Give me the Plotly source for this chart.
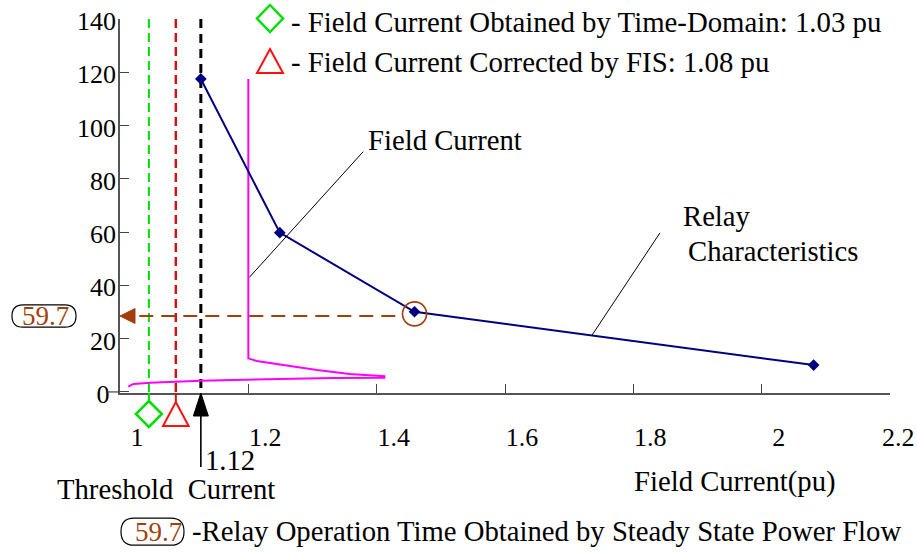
import plotly.graph_objects as go

# ---------------- data ----------------
relay_x = [1.126, 1.249, 1.459, 2.081]
relay_y = [117.5, 59.8, 30.1, 10.1]

field_x = [1.2, 1.2, 1.213, 1.254, 1.307, 1.358, 1.412, 1.412, 1.332, 1.229, 1.125, 1.047, 1.021, 1.013]
field_y = [117.5, 12.6, 11.6, 10.1, 8.2, 6.7, 5.9, 5.3, 5.2, 4.75, 4.2, 3.45, 3.0, 2.0]

time_domain_current = 1.045      # green diamond
fis_current = 1.087              # red triangle
threshold_current = 1.126        # black arrow
threshold_label = "1.12"

op_point_x = 1.459               # circled relay point
op_point_y = 29.3
op_time_level = 28.5             # dashed arrow level
op_time_label = "59.7"

x_ticks = [1, 1.2, 1.4, 1.6, 1.8, 2, 2.2]
x_ticktext = ["1", "1.2", "1.4", "1.6", "1.8", "2", "2.2"]
y_ticks = [0, 20, 40, 60, 80, 100, 120, 140]
y_ticktext = ["0\u00a0", "20", "40", "60", "80", "100", "120", "140"]

legend_texts = ["- Field Current Obtained by Time-Domain: 1.03 pu",
                "- Field Current Corrected by FIS: 1.08 pu"]

X_MIN, X_MAX = 1.0, 2.2
Y_MIN, Y_MAX = -0.4, 140

FONT = "Liberation Serif"
GREEN = "#00dd00"
RED = "#ff1010"
DRED = "#cc1515"
BROWN = "#a0410d"
NAVY = "#00007f"
MAGENTA = "#ff00ff"

# plot area in pixels (for converting pixel offsets to paper fractions)
L, R, T, B = 120, 27, 19, 159
W, H = 917, 552
PW, PH = W - L - R, H - T - B


def px(xp):
    return (xp - L) / PW


def py(yp):
    return (H - B - yp) / PH


fig = go.Figure()

# vertical dashed lines
for xv, col, wd, dash in [(time_domain_current, GREEN, 2, "9px,5px"),
                          (fis_current, DRED, 2.5, "9px,5px"),
                          (threshold_current, "black", 3, "9px,6px")]:
    fig.add_trace(go.Scatter(x=[xv, xv], y=[Y_MAX, Y_MIN], mode="lines",
                             line=dict(color=col, width=wd, dash=dash),
                             hoverinfo="skip"))

# field current (magenta)
fig.add_trace(go.Scatter(x=field_x, y=field_y, mode="lines",
                         line=dict(color=MAGENTA, width=2), hoverinfo="skip"))

# relay characteristics
fig.add_trace(go.Scatter(x=relay_x, y=relay_y, mode="lines+markers",
                         line=dict(color=NAVY, width=2),
                         marker=dict(symbol="diamond", size=9, color=NAVY),
                         hoverinfo="skip"))

# dashed brown arrow line
fig.add_trace(go.Scatter(x=[op_point_x - 0.03, X_MIN + 0.02], y=[op_time_level, op_time_level],
                         mode="lines", line=dict(color=BROWN, width=2, dash="14px,8px"),
                         hoverinfo="skip"))

# circle around point
fig.add_trace(go.Scatter(x=[op_point_x], y=[op_point_y], mode="markers",
                         marker=dict(symbol="circle-open", size=24,
                                     line=dict(color=BROWN, width=1.6), color=BROWN),
                         hoverinfo="skip", cliponaxis=False))

shapes = []
# brown arrowhead at y axis
shapes.append(dict(type="path", xref="x", yref="y", xsizemode="pixel", ysizemode="pixel",
                   xanchor=X_MIN, yanchor=op_time_level,
                   path="M0,0 L15,7.5 L15,-7.5 Z", fillcolor=BROWN, line=dict(color=BROWN, width=1)))

# short connectors below axis for green / red
for xv, col in [(time_domain_current, GREEN), (fis_current, DRED)]:
    shapes.append(dict(type="line", xref="x", yref="y domain", ysizemode="pixel",
                       yanchor=0, x0=xv, x1=xv, y0=0, y1=-9,
                       line=dict(color=col, width=2)))

# green diamond below axis
shapes.append(dict(type="path", xref="x", yref="y domain", xsizemode="pixel", ysizemode="pixel",
                   xanchor=time_domain_current, yanchor=0,
                   path="M0,-8 L13,-21 L0,-34 L-13,-21 Z",
                   line=dict(color=GREEN, width=2.5)))
# red triangle below axis
shapes.append(dict(type="path", xref="x", yref="y domain", xsizemode="pixel", ysizemode="pixel",
                   xanchor=fis_current, yanchor=0,
                   path="M0,-9 L12.8,-33 L-12.8,-33 Z",
                   line=dict(color=RED, width=2)))
# black arrow
shapes.append(dict(type="path", xref="x", yref="y domain", xsizemode="pixel", ysizemode="pixel",
                   xanchor=threshold_current, yanchor=0,
                   path="M0,-20 L0,-74", line=dict(color="black", width=1.6)))
shapes.append(dict(type="path", xref="x", yref="y domain", xsizemode="pixel", ysizemode="pixel",
                   xanchor=threshold_current, yanchor=0,
                   path="M0,0 L7.5,-23 L-7.5,-23 Z", fillcolor="black",
                   line=dict(color="black", width=1)))

# outward tick at 0
shapes.append(dict(type="line", xref="paper", yref="y", xsizemode="pixel",
                   xanchor=0, x0=-13, x1=0, y0=0, y1=0,
                   line=dict(color="#444", width=1.2)))

# legend symbols
shapes.append(dict(type="path", xref="paper", yref="paper", xsizemode="pixel", ysizemode="pixel",
                   xanchor=px(270), yanchor=py(18.5),
                   path="M0,13.5 L13,0 L0,-13.5 L-13,0 Z", line=dict(color=GREEN, width=2.5)))
shapes.append(dict(type="path", xref="paper", yref="paper", xsizemode="pixel", ysizemode="pixel",
                   xanchor=px(270), yanchor=py(61),
                   path="M0,12 L13,-12 L-13,-12 Z", line=dict(color=RED, width=2)))

# leader lines
shapes.append(dict(type="line", xref="x", yref="y", x0=1.379, y0=90.2, x1=1.2015, y1=43.0,
                   line=dict(color="black", width=1)))
shapes.append(dict(type="line", xref="x", yref="y", x0=1.8415, y0=59.7, x1=1.7356, y1=21.3,
                   line=dict(color="black", width=1)))

# rounded boxes
pill_left = "M-97,11.2 L-55,11.2 Q-44,11.2 -44,0 Q-44,-11.2 -55,-11.2 L-97,-11.2 Q-108,-11.2 -108,0 Q-108,11.2 -97,11.2 Z"
shapes.append(dict(type="path", xref="paper", yref="paper", xsizemode="pixel", ysizemode="pixel",
                   xanchor=0, yanchor=py(316), path=pill_left,
                   line=dict(color="black", width=1.2)))
pill_bottom = "M14,13.5 L51,13.5 Q64,13.5 64,0 Q64,-13.5 51,-13.5 L14,-13.5 Q1,-13.5 1,0 Q1,13.5 14,13.5 Z"
shapes.append(dict(type="path", xref="paper", yref="paper", xsizemode="pixel", ysizemode="pixel",
                   xanchor=0, yanchor=py(531.7), path=pill_bottom,
                   line=dict(color="black", width=1.2)))

txt = dict(family=FONT, size=28.7, color="black")
leg_txt = dict(family=FONT, size=28.8, color="black")
brown_txt = dict(family=FONT, size=27, color=BROWN)
tick_txt = dict(family=FONT, size=26, color="black")
annotations = [
    dict(text=legend_texts[0], xref="paper", yref="paper", x=px(289), y=py(21.7),
         xanchor="left", yanchor="middle", showarrow=False, font=leg_txt),
    dict(text=legend_texts[1], xref="paper", yref="paper", x=px(289), y=py(61.7),
         xanchor="left", yanchor="middle", showarrow=False, font=leg_txt),
    dict(text="Field Current", xref="x", yref="y", x=1.5065, y=94.5,
         xanchor="center", yanchor="middle", showarrow=False, font=txt),
    dict(text="Relay", xref="x", yref="y", x=1.874, y=66.0,
         xanchor="left", yanchor="middle", showarrow=False, font=txt),
    dict(text="Characteristics", xref="x", yref="y", x=1.882, y=52.9,
         xanchor="left", yanchor="middle", showarrow=False, font=txt),
    dict(text=threshold_label, xref="x", yref="paper", x=threshold_current, y=py(459.5),
         xanchor="left", yanchor="middle", xshift=2, showarrow=False, font=txt),
    dict(text="Threshold\u00a0\u00a0Current", xref="paper", yref="paper", x=px(165.8), y=py(489),
         xanchor="center", yanchor="middle", showarrow=False, font=txt),
    dict(text="Field Current(pu)", xref="paper", yref="paper", x=px(735), y=py(481.7),
         xanchor="center", yanchor="middle", showarrow=False, font=txt),
    dict(text=op_time_label, xref="paper", yref="paper", x=px(45), y=py(315.5),
         xanchor="center", yanchor="middle", showarrow=False, font=brown_txt),
    dict(text=op_time_label, xref="paper", yref="paper", x=px(158), y=py(531.7),
         xanchor="center", yanchor="middle", showarrow=False, font=brown_txt),
    dict(text="-Relay Operation Time Obtained by Steady State Power Flow", xref="paper", yref="paper",
         x=px(190), y=py(531.3), xanchor="left", yanchor="middle", showarrow=False, font=txt),
    # last x tick label sits closer to its tick (right edge of the figure)
    dict(text=x_ticktext[-1], xref="x", yref="paper", x=x_ticks[-1], y=py(437),
         xanchor="right", yanchor="middle", xshift=27, showarrow=False, font=tick_txt),
]

fig.update_layout(
    width=W, height=H,
    margin=dict(l=L, r=R, t=T, b=B, pad=0, autoexpand=False),
    paper_bgcolor="white", plot_bgcolor="white",
    showlegend=False,
    shapes=shapes, annotations=annotations,
    xaxis=dict(range=[X_MIN, X_MAX], tickvals=x_ticks, ticktext=x_ticktext[:-1] + [""],
               ticks="inside", ticklen=9, tickwidth=1, tickcolor="#444",
               showline=True, linecolor="#555", linewidth=1.5,
               showgrid=False, zeroline=False, automargin=False,
               tickfont=tick_txt,
               ticklabelshift=17, ticklabelstandoff=20, ticklabeloverflow="allow"),
    yaxis=dict(range=[Y_MIN, Y_MAX], tickvals=y_ticks, ticktext=y_ticktext,
               ticks="inside", ticklen=9, tickwidth=1, tickcolor="#444",
               showline=True, linecolor="#555", linewidth=1.5,
               showgrid=False, zeroline=False, automargin=False,
               tickfont=tick_txt,
               ticklabelshift=2, ticklabelstandoff=-3),
)

fig.write_html("out.html")
